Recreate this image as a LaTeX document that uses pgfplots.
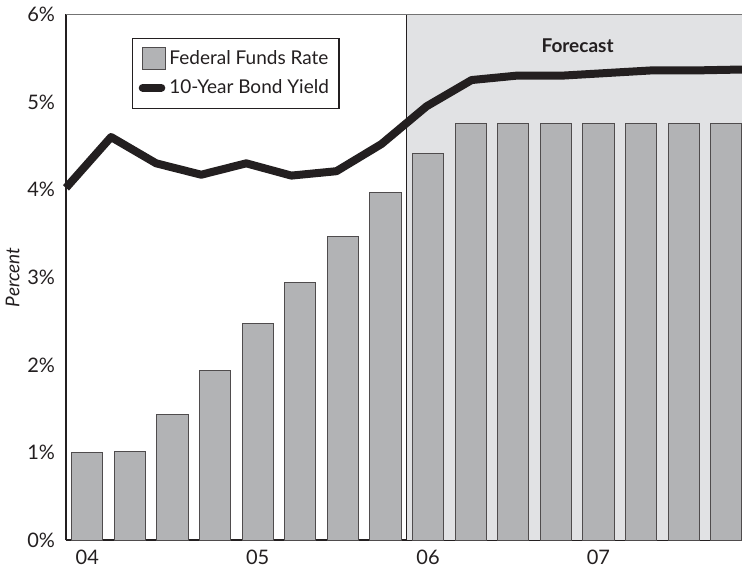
\documentclass[border=0pt]{standalone}
\usepackage{fontspec}
\setmainfont{Lato}
\usepackage{pgfplots}
\pgfplotsset{compat=1.18}
\definecolor{barfill}{HTML}{B2B3B5}
\definecolor{fc}{HTML}{E1E2E4}
\definecolor{ink}{HTML}{231F20}
\newcommand{\fs}{\fontsize{9.5}{11}\selectfont}
\newcommand{\ft}{\fontsize{10}{12}\selectfont}
\pgfplotsset{
  barleg/.style={legend image code/.code={\draw[##1, line width=0.5pt] (0pt,-5.6pt) rectangle (11.6pt,5.6pt);}},
  lineleg/.style={legend image code/.code={\draw[##1, line cap=round] (0.3pt,0pt) -- (9.6pt,0pt);}},
}
\begin{document}
\begin{tikzpicture}
\begin{axis}[name=ax, scale only axis, width=338pt, height=263pt,
 xmin=0, xmax=15.87, ymin=0, ymax=6,
 axis x line*=bottom, axis y line*=left,
 axis line style={ink, line width=0.8pt},
 xtick={0.5,4.5,8.5,12.5}, xticklabels={04,05,06,07},
 ytick={0,1,2,3,4,5,6},
 yticklabel={\pgfmathprintnumber{\tick}\%},
 major tick length=0pt,
 /pgf/number format/assume math mode=true,
 tick label style={font=\ft, text=ink},
 yticklabel style={xshift=-2.0pt},
 xticklabel style={yshift=-1.2pt},
 ylabel={Percent}, ylabel style={font=\itshape\fs, text=ink},
 ylabel shift=-3pt,
 legend style={at={(rel axis cs:0.0972,0.9555)}, anchor=north west,
   draw=ink, line width=0.6pt, font=\fs, text=ink, inner xsep=3.2pt, inner ysep=4pt,
   row sep=2pt, nodes={inner xsep=1.8pt}},
 legend cell align=left,
 clip=false,
]
\fill[fc] (axis cs:8,0) rectangle (axis cs:15.87,6);
\draw[ink, line width=0.7pt] (axis cs:8,0) -- (axis cs:8,6);
\draw[black!55, line width=0.6pt] (rel axis cs:0,1) -- (rel axis cs:1,1);
\addplot[ybar, bar width=0.73, fill=barfill, draw=ink!80, line width=0.5pt, barleg]
  coordinates {
  (0.5,1.00) (1.5,1.01) (2.5,1.43) (3.5,1.94) (4.5,2.47) (5.5,2.94)
  (6.5,3.46) (7.5,3.97) (8.5,4.41) (9.5,4.75) (10.5,4.75) (11.5,4.75)
  (12.5,4.75) (13.5,4.75) (14.5,4.75) (15.5,4.75)};
\addlegendentry{Federal Funds Rate\hspace{2pt}}
\addplot[ink, line width=4pt, mark=none, line join=round, lineleg]
  coordinates {
  (0,4.02) (1.058,4.60) (2.116,4.30) (3.174,4.17) (4.232,4.30) (5.29,4.16)
  (6.348,4.21) (7.406,4.52) (8.464,4.95) (9.522,5.25) (10.58,5.30)
  (11.638,5.30) (12.696,5.33) (13.754,5.36) (14.812,5.36) (15.87,5.37)};
\addlegendentry{10-Year Bond Yield}
\node[font=\bfseries\fs, text=ink] at (axis cs:12.01,5.64) {Forecast};
\coordinate (BL) at (rel axis cs:0,0);
\coordinate (TR) at (rel axis cs:1,1);
\end{axis}
\pgfresetboundingbox
\path ([xshift=-33pt,yshift=-13.75pt]BL) rectangle ([yshift=7.15pt]TR);
\end{tikzpicture}
\end{document}
